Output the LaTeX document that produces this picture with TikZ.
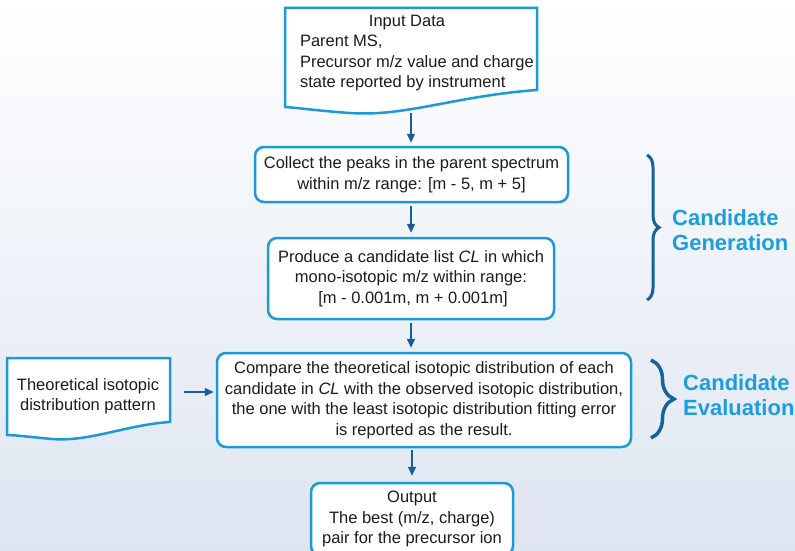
\documentclass[tikz,border=0pt]{standalone}
\usepackage{fontspec}
\setmainfont{Liberation Sans}
\usetikzlibrary{arrows.meta,decorations.pathreplacing}
\definecolor{boxblue}{RGB}{27,154,215}
\definecolor{arrblue}{RGB}{26,92,156}
\definecolor{braceblue}{RGB}{22,98,160}
\definecolor{lblblue}{RGB}{28,158,222}
\definecolor{txt}{RGB}{28,28,28}
\definecolor{bgbot}{RGB}{222,229,241}
\begin{document}
\begin{tikzpicture}[x=1pt,y=-1pt,
 every node/.style={font=\fontsize{16.5}{20.5}\selectfont, text=txt},
 procbox/.style={draw=boxblue, line width=2.5pt, rounded corners=9pt, fill=white, align=center, inner sep=0pt},
 flowarrow/.style={draw=arrblue, line width=1.5pt, -{Triangle[length=9pt,width=8pt]}},
 docshape/.style={draw=boxblue, line width=2.5pt, fill=white},
 bracestyle/.style 2 args={draw=braceblue, line width=#2, decorate, decoration={brace, amplitude=#1}},
 lbl/.style={font=\fontsize{22}{25}\selectfont\bfseries, text=lblblue, align=left, anchor=west, inner sep=0pt}]
\shade[top color=white, bottom color=bgbot] (0,0) rectangle (795,551);
\useasboundingbox (0,0) rectangle (795,551);

% input document
\node[minimum width=252pt, minimum height=100pt, inner sep=0pt] (inp) at (411,58) {};
\draw[docshape] (285,8) -- (537,8) -- (537,90) .. controls (455,96) and (405,117) .. (350,113)
  .. controls (320,111) and (300,108) .. (285,107) -- cycle;
\node[align=left, inner sep=0pt] (inptxt) at (418,53)
  {\makebox[236pt][c]{\hspace*{-22pt}Input Data}\\Parent MS,\\Precursor m/z value and charge\\state reported by instrument};
\coordinate (inpout) at (411,113);

% process boxes
\node[procbox, minimum width=313pt, minimum height=55pt] (b1) at (411.5,174.5)
  {Collect the peaks in the parent spectrum\\within m/z range: [m - 5, m + 5]};
\node[procbox, minimum width=286pt, minimum height=81pt] (b2) at (411,278.5)
  {Produce a candidate list \textit{CL} in which\\mono-isotopic m/z within range:\\\hspace*{4pt}[m - 0.001m, m + 0.001m]};
\node[procbox, minimum width=414pt, minimum height=94pt] (b3) at (424,400)
  {Compare the theoretical isotopic distribution of each\\candidate in \textit{CL} with the observed isotopic distribution,\\the one with the least isotopic distribution fitting error\\is reported as the result.};
\node[procbox, minimum width=202pt, minimum height=72pt] (b4) at (412,519)
  {Output\\The best (m/z, charge)\\pair for the precursor ion};

% theoretical document
\node[minimum width=163pt, minimum height=80pt, inner sep=0pt] (theo) at (88.5,398) {};
\draw[docshape] (7,358) -- (170,358) -- (170,422) .. controls (125,425) and (90,442) .. (52,439)
  .. controls (30,437) and (15,435) .. (7,435) -- cycle;
\node[align=center, inner sep=0pt] (theotxt) at (88,396) {Theoretical isotopic\\distribution pattern};
\coordinate (theoout) at (184,392);

% connectors
\draw[flowarrow, shorten >=3pt] (inpout) -- (b1.north -| inpout);
\draw[flowarrow, shorten <=3pt, shorten >=4pt] (b1.south -| b2.north) -- (b2.north);
\draw[flowarrow, shorten <=3pt, shorten >=4pt] (b2.south) -- (b2.south |- b3.north);
\draw[flowarrow, shorten <=2pt, shorten >=6pt] (b4.north |- b3.south) -- (b4.north);
\draw[flowarrow, shorten >=2pt] (theoout) -- (theoout -| b3.west);

% braces and labels
\draw[bracestyle={12pt}{3pt}] (647,155) -- (647,300);
\draw[bracestyle={23pt}{3.5pt}] (651,360) -- (651,438);
\node[lbl] (gen) at (672,230.5) {Candidate\\Generation};
\node[lbl] (eva) at (683,395) {Candidate\\Evaluation};
\end{tikzpicture}
\end{document}
